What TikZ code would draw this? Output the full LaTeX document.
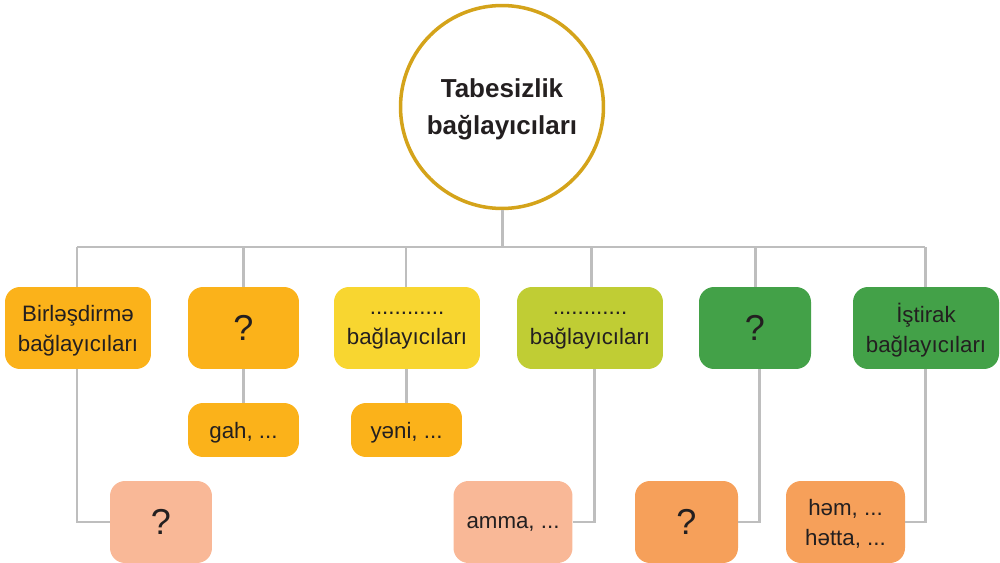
\documentclass[tikz,border=0pt]{standalone}
\usepackage{fontspec}
\setmainfont{Liberation Sans}
\definecolor{ink}{RGB}{35,31,32}
\definecolor{linegray}{RGB}{190,190,190}
\definecolor{gold}{RGB}{212,163,26}
\definecolor{amber}{RGB}{251,178,26}
\definecolor{yel}{RGB}{248,214,48}
\definecolor{lime}{RGB}{192,205,52}
\definecolor{grn}{RGB}{67,161,72}
\definecolor{pink}{RGB}{249,184,151}
\definecolor{orng}{RGB}{246,160,90}
\begin{document}
\begin{tikzpicture}[x=0.02cm,y=-0.02cm,
  box/.style={rounded corners=0.3cm, minimum height=1.64cm, inner sep=0pt, align=center, text=ink, text depth=-2.5pt, font=\fontsize{12.7}{17}\selectfont},
  small/.style={box, minimum height=1.08cm},
  qm/.style={font=\fontsize{20.5}{24}\selectfont, text depth=-0.5pt},
  conn/.style={draw=linegray, line width=1.7pt}]
\useasboundingbox (0,0) rectangle (1000,563);
\node[circle, draw=gold, line width=2pt, fill=white, minimum size=4.06cm, inner sep=0pt, align=center, text=ink, text depth=-3pt, font=\fontsize{14.8}{21}\selectfont\bfseries] (circ) at (502,107) {Tabesizlik\\bağlayıcıları};
\node[box, fill=amber, minimum width=2.92cm] (b1) at (78,328) {Birləşdirmə\\bağlayıcıları};
\node[box, qm, fill=amber, minimum width=2.22cm] (b2) at (243.5,328) {?};
\node[box, fill=yel, minimum width=2.92cm] (b3) at (407,328) {............\\bağlayıcıları};
\node[box, fill=lime, minimum width=2.92cm] (b4) at (590,328) {............\\bağlayıcıları};
\node[box, qm, fill=grn, minimum width=2.24cm] (b5) at (755,328) {?};
\node[box, fill=grn, minimum width=2.92cm] (b6) at (926,328) {İştirak\\bağlayıcıları};
\node[small, fill=amber, minimum width=2.22cm] (gah) at (243.5,430) {gah, ...};
\node[small, fill=amber, minimum width=2.22cm] (yeni) at (406.5,430) {yəni, ...};
\node[box, qm, fill=pink, minimum width=2.04cm] (q1) at (161,522) {?};
\node[box, fill=pink, minimum width=2.38cm] (amma) at (513,522) {amma, ...};
\node[box, qm, fill=orng, minimum width=2.06cm] (q2) at (686.5,522) {?};
\node[box, fill=orng, minimum width=2.38cm] (hem) at (845.5,522) {həm, ...\\hətta, ...};
\coordinate (barL) at (77,247);
\coordinate (barR) at (925,247);
\draw[conn] (barL) -- (barR);
\draw[conn] (circ.south) -- (circ.south |- barL);
\draw[conn] ([xshift=-0.02cm]b1.north) -- ([xshift=-0.02cm]b1.north |- barL);
\draw[conn] (b2.north) -- (b2.north |- barL);
\draw[conn] ([xshift=-0.02cm]b3.north) -- ([xshift=-0.02cm]b3.north |- barL);
\draw[conn] ([xshift=0.02cm]b4.north) -- ([xshift=0.02cm]b4.north |- barL);
\draw[conn] (b5.north) -- (b5.north |- barL);
\draw[conn] ([xshift=-0.02cm]b6.north) -- ([xshift=-0.02cm]b6.north |- barL);
\draw[conn] (b2.south) -- (gah.north);
\draw[conn] (yeni.north) -- (yeni.north |- b3.south);
\draw[conn] ([xshift=-0.02cm]b1.south) |- (q1.west);
\draw[conn] ([xshift=0.08cm]b4.south) |- (amma.east);
\draw[conn] ([xshift=0.08cm]b5.south) |- (q2.east);
\draw[conn] ([xshift=-0.02cm]b6.south) |- (hem.east);
\end{tikzpicture}
\end{document}
